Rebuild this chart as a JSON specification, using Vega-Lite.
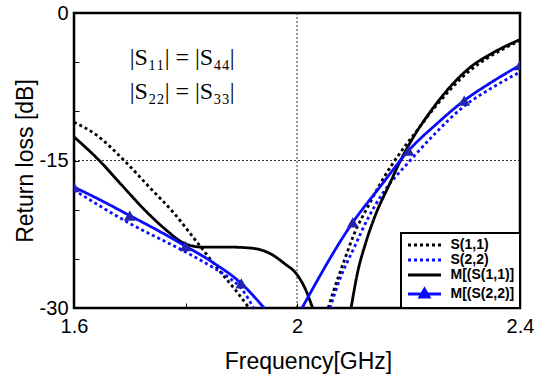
{
  "$schema": "https://vega.github.io/schema/vega-lite/v6.json",
  "width": 446,
  "height": 295,
  "autosize": "none",
  "padding": {"left": 74, "top": 13, "right": 25, "bottom": 72},
  "config": {
    "view": {"stroke": "black", "strokeWidth": 2.5},
    "font": "Liberation Sans"
  },
  "datasets": {
    "curves": [
      {"s": "S(1,1)", "g": "s11a", "f": 1.600, "v": -11.1},
      {"s": "S(1,1)", "g": "s11a", "f": 1.640, "v": -12.4},
      {"s": "S(1,1)", "g": "s11a", "f": 1.690, "v": -15.0},
      {"s": "S(1,1)", "g": "s11a", "f": 1.735, "v": -17.7},
      {"s": "S(1,1)", "g": "s11a", "f": 1.780, "v": -20.4},
      {"s": "S(1,1)", "g": "s11a", "f": 1.815, "v": -22.9},
      {"s": "S(1,1)", "g": "s11a", "f": 1.840, "v": -24.7},
      {"s": "S(1,1)", "g": "s11a", "f": 1.865, "v": -26.5},
      {"s": "S(1,1)", "g": "s11a", "f": 1.890, "v": -28.2},
      {"s": "S(1,1)", "g": "s11a", "f": 1.914, "v": -30.0},
      {"s": "S(1,1)", "g": "s11b", "f": 2.056, "v": -30.0},
      {"s": "S(1,1)", "g": "s11b", "f": 2.066, "v": -28.2},
      {"s": "S(1,1)", "g": "s11b", "f": 2.084, "v": -25.3},
      {"s": "S(1,1)", "g": "s11b", "f": 2.103, "v": -22.4},
      {"s": "S(1,1)", "g": "s11b", "f": 2.128, "v": -19.6},
      {"s": "S(1,1)", "g": "s11b", "f": 2.153, "v": -17.0},
      {"s": "S(1,1)", "g": "s11b", "f": 2.184, "v": -14.3},
      {"s": "S(1,1)", "g": "s11b", "f": 2.216, "v": -11.9},
      {"s": "S(1,1)", "g": "s11b", "f": 2.247, "v": -9.6},
      {"s": "S(1,1)", "g": "s11b", "f": 2.278, "v": -7.6},
      {"s": "S(1,1)", "g": "s11b", "f": 2.309, "v": -5.9},
      {"s": "S(1,1)", "g": "s11b", "f": 2.341, "v": -4.6},
      {"s": "S(1,1)", "g": "s11b", "f": 2.372, "v": -3.6},
      {"s": "S(1,1)", "g": "s11b", "f": 2.400, "v": -2.8},
      {"s": "S(2,2)", "g": "s22a", "f": 1.600, "v": -18.0},
      {"s": "S(2,2)", "g": "s22a", "f": 1.700, "v": -21.4},
      {"s": "S(2,2)", "g": "s22a", "f": 1.800, "v": -24.3},
      {"s": "S(2,2)", "g": "s22a", "f": 1.850, "v": -25.9},
      {"s": "S(2,2)", "g": "s22a", "f": 1.880, "v": -27.0},
      {"s": "S(2,2)", "g": "s22a", "f": 1.900, "v": -28.0},
      {"s": "S(2,2)", "g": "s22a", "f": 1.922, "v": -30.0},
      {"s": "S(2,2)", "g": "s22b", "f": 2.059, "v": -30.0},
      {"s": "S(2,2)", "g": "s22b", "f": 2.078, "v": -26.9},
      {"s": "S(2,2)", "g": "s22b", "f": 2.103, "v": -23.8},
      {"s": "S(2,2)", "g": "s22b", "f": 2.128, "v": -20.8},
      {"s": "S(2,2)", "g": "s22b", "f": 2.153, "v": -18.4},
      {"s": "S(2,2)", "g": "s22b", "f": 2.203, "v": -15.0},
      {"s": "S(2,2)", "g": "s22b", "f": 2.247, "v": -12.3},
      {"s": "S(2,2)", "g": "s22b", "f": 2.297, "v": -9.6},
      {"s": "S(2,2)", "g": "s22b", "f": 2.353, "v": -7.5},
      {"s": "S(2,2)", "g": "s22b", "f": 2.400, "v": -6.0},
      {"s": "M[(S(1,1)]", "g": "m11a", "f": 1.600, "v": -12.6},
      {"s": "M[(S(1,1)]", "g": "m11a", "f": 1.647, "v": -15.1},
      {"s": "M[(S(1,1)]", "g": "m11a", "f": 1.684, "v": -17.4},
      {"s": "M[(S(1,1)]", "g": "m11a", "f": 1.728, "v": -20.1},
      {"s": "M[(S(1,1)]", "g": "m11a", "f": 1.766, "v": -22.1},
      {"s": "M[(S(1,1)]", "g": "m11a", "f": 1.797, "v": -23.4},
      {"s": "M[(S(1,1)]", "g": "m11a", "f": 1.828, "v": -23.8},
      {"s": "M[(S(1,1)]", "g": "m11a", "f": 1.872, "v": -23.8},
      {"s": "M[(S(1,1)]", "g": "m11a", "f": 1.916, "v": -23.9},
      {"s": "M[(S(1,1)]", "g": "m11a", "f": 1.953, "v": -24.5},
      {"s": "M[(S(1,1)]", "g": "m11a", "f": 1.978, "v": -25.5},
      {"s": "M[(S(1,1)]", "g": "m11a", "f": 2.000, "v": -26.6},
      {"s": "M[(S(1,1)]", "g": "m11a", "f": 2.016, "v": -28.2},
      {"s": "M[(S(1,1)]", "g": "m11a", "f": 2.028, "v": -30.0},
      {"s": "M[(S(1,1)]", "g": "m11b", "f": 2.097, "v": -30.0},
      {"s": "M[(S(1,1)]", "g": "m11b", "f": 2.109, "v": -26.3},
      {"s": "M[(S(1,1)]", "g": "m11b", "f": 2.122, "v": -23.6},
      {"s": "M[(S(1,1)]", "g": "m11b", "f": 2.141, "v": -20.5},
      {"s": "M[(S(1,1)]", "g": "m11b", "f": 2.166, "v": -17.4},
      {"s": "M[(S(1,1)]", "g": "m11b", "f": 2.184, "v": -15.2},
      {"s": "M[(S(1,1)]", "g": "m11b", "f": 2.209, "v": -12.6},
      {"s": "M[(S(1,1)]", "g": "m11b", "f": 2.241, "v": -9.9},
      {"s": "M[(S(1,1)]", "g": "m11b", "f": 2.278, "v": -7.3},
      {"s": "M[(S(1,1)]", "g": "m11b", "f": 2.309, "v": -5.6},
      {"s": "M[(S(1,1)]", "g": "m11b", "f": 2.353, "v": -4.0},
      {"s": "M[(S(1,1)]", "g": "m11b", "f": 2.400, "v": -2.7},
      {"s": "M[(S(2,2)]", "g": "m22a", "f": 1.600, "v": -17.7},
      {"s": "M[(S(2,2)]", "g": "m22a", "f": 1.650, "v": -19.1},
      {"s": "M[(S(2,2)]", "g": "m22a", "f": 1.700, "v": -20.6},
      {"s": "M[(S(2,2)]", "g": "m22a", "f": 1.750, "v": -22.1},
      {"s": "M[(S(2,2)]", "g": "m22a", "f": 1.800, "v": -23.7},
      {"s": "M[(S(2,2)]", "g": "m22a", "f": 1.850, "v": -25.4},
      {"s": "M[(S(2,2)]", "g": "m22a", "f": 1.900, "v": -27.5},
      {"s": "M[(S(2,2)]", "g": "m22a", "f": 1.941, "v": -30.0},
      {"s": "M[(S(2,2)]", "g": "m22b", "f": 2.009, "v": -30.0},
      {"s": "M[(S(2,2)]", "g": "m22b", "f": 2.100, "v": -21.3},
      {"s": "M[(S(2,2)]", "g": "m22b", "f": 2.150, "v": -17.6},
      {"s": "M[(S(2,2)]", "g": "m22b", "f": 2.200, "v": -14.0},
      {"s": "M[(S(2,2)]", "g": "m22b", "f": 2.250, "v": -11.3},
      {"s": "M[(S(2,2)]", "g": "m22b", "f": 2.300, "v": -8.9},
      {"s": "M[(S(2,2)]", "g": "m22b", "f": 2.350, "v": -7.0},
      {"s": "M[(S(2,2)]", "g": "m22b", "f": 2.400, "v": -5.3}
    ],
    "markers": [
      {"f": 1.6, "v": -17.7},
      {"f": 1.7, "v": -20.6},
      {"f": 1.8, "v": -23.7},
      {"f": 1.9, "v": -27.5},
      {"f": 2.1, "v": -21.3},
      {"f": 2.2, "v": -14.0},
      {"f": 2.3, "v": -8.9},
      {"f": 2.4, "v": -5.3}
    ],
    "notes": [
      {"f": 1.70, "v": -4.6, "t": "|S₁₁| = |S₄₄|"},
      {"f": 1.70, "v": -8.0, "t": "|S₂₂| = |S₃₃|"}
    ],
    "vgrid": [{"f": 2}],
    "hgrid": [{"v": -15}]
  },
  "layer": [
    {
      "data": {"name": "vgrid"},
      "mark": {"type": "rule", "color": "black", "strokeDash": [2, 2], "strokeWidth": 0.8},
      "encoding": {
        "x": {
          "field": "f", "type": "quantitative",
          "scale": {"domain": [1.6, 2.4], "nice": false, "zero": false},
          "axis": {
            "title": "Frequency[GHz]",
            "values": [1.6, 1.8, 2, 2.2, 2.4],
            "labelExpr": "indexof([1.6, 2, 2.4], datum.value) >= 0 ? format(datum.value, '~g') : ''",
            "domain": false, "grid": false,
            "tickSize": -5, "tickColor": "black", "tickWidth": 1,
            "labelPadding": 13, "labelFontSize": 20, "labelColor": "black", "labelFont": "Liberation Sans",
            "labelFlush": false,
            "titleFontSize": 23, "titleFontWeight": "normal", "titleColor": "black", "titleFont": "Liberation Sans",
            "titlePadding": 14, "titleX": 234
          }
        }
      }
    },
    {
      "data": {"name": "hgrid"},
      "mark": {"type": "rule", "color": "black", "strokeDash": [2, 2], "strokeWidth": 0.8},
      "encoding": {
        "y": {
          "field": "v", "type": "quantitative",
          "scale": {"domain": [-30, 0], "nice": false, "zero": false},
          "axis": {
            "title": "Return loss [dB]",
            "values": [0, -5, -10, -15, -20, -25, -30],
            "labelExpr": "datum.value % 15 === 0 ? '' + datum.value : ''",
            "domain": false, "grid": false,
            "tickSize": -5, "tickColor": "black", "tickWidth": 1,
            "labelPadding": 11, "labelFontSize": 20, "labelColor": "black", "labelFont": "Liberation Sans",
            "labelFlush": false,
            "titleFontSize": 23, "titleFontWeight": "normal", "titleColor": "black", "titleFont": "Liberation Sans",
            "titlePadding": 2
          }
        }
      }
    },
    {
      "data": {"name": "curves"},
      "mark": {"type": "line", "clip": true, "interpolate": "monotone", "strokeWidth": 2.8},
      "encoding": {
        "x": {"field": "f", "type": "quantitative"},
        "y": {"field": "v", "type": "quantitative"},
        "color": {
          "field": "s", "type": "nominal",
          "scale": {"domain": ["S(1,1)", "S(2,2)", "M[(S(1,1)]", "M[(S(2,2)]"], "range": ["#000000", "#0a0aff", "#000000", "#0a0aff"]},
          "legend": {
            "title": null, "orient": "bottom-right", "offset": 0, "padding": 5,
            "strokeColor": "black", "fillColor": "white",
            "symbolType": "stroke", "symbolSize": 100, "symbolStrokeWidth": 2.8,
            "symbolOffset": 11.5,
            "labelFont": "Liberation Sans", "labelFontSize": 14, "labelFontWeight": "bold", "labelColor": "black",
            "rowPadding": 1, "labelOffset": 19,
            "encode": {
              "legend": {"update": {"strokeWidth": {"value": 2}}},
              "symbols": {
                "update": {
                  "shape": {"signal": "datum.value === 'M[(S(2,2)]' ? 'M-3.3,0H3.3M0,-1.0L0.9,0.6L-0.9,0.6Z' : 'M-3.3,0H3.3'"},
                  "fill": {"signal": "datum.value === 'M[(S(2,2)]' ? '#2424b0' : 'transparent'"}
                }
              }
            }
          }
        },
        "strokeDash": {
          "field": "s", "type": "nominal",
          "scale": {"domain": ["S(1,1)", "S(2,2)", "M[(S(1,1)]", "M[(S(2,2)]"], "range": [[3, 3], [3, 3], [1, 0], [1, 0]]}
        },
        "detail": {"field": "g"}
      }
    },
    {
      "data": {"name": "markers"},
      "mark": {"type": "point", "shape": "triangle-up", "filled": true, "size": 140, "color": "#2424b0", "opacity": 1, "clip": true},
      "encoding": {
        "x": {"field": "f", "type": "quantitative"},
        "y": {"field": "v", "type": "quantitative"}
      }
    },
    {
      "data": {"name": "notes"},
      "mark": {"type": "text", "font": "Liberation Serif", "fontSize": 24, "align": "left", "baseline": "middle", "color": "black"},
      "encoding": {
        "x": {"field": "f", "type": "quantitative"},
        "y": {"field": "v", "type": "quantitative"},
        "text": {"field": "t"}
      }
    }
  ]
}
